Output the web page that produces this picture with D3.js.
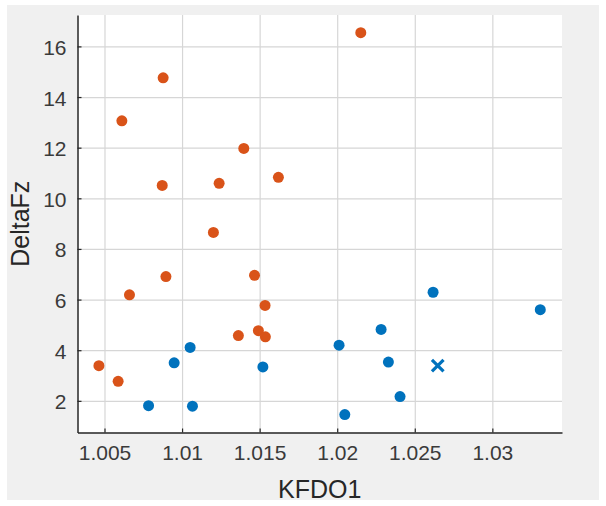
<!doctype html>
<html>
<head>
<meta charset="utf-8">
<style>
    body { margin: 0; background: #fff; }
    svg text { font-family: "Liberation Sans", Arial, sans-serif; }
</style>
<script src="https://d3js.org/d3.v7.min.js"></script>
</head>
<body>
<svg width="606" height="506" class="chart"></svg>
<script>

// data
var orangeX = [1.00878, 1.00612, 1.01398, 1.00872, 1.01239, 1.01621, 1.02152, 1.01202,
               1.00896, 1.01467, 1.00661, 1.01535, 1.01363, 1.01492, 1.01537, 1.00464, 1.00588];
var orangeY = [14.76, 13.06, 11.97, 10.51, 10.59, 10.83, 16.54, 8.65,
               6.91, 6.96, 6.19, 5.77, 4.58, 4.77, 4.53, 3.39, 2.77];

var blueX = [1.01052, 1.00949, 1.01521, 1.00784, 1.01067, 1.02618,
             1.03309, 1.02283, 1.02012, 1.02330, 1.02405, 1.02049];
var blueY = [4.11, 3.50, 3.34, 1.81, 1.79, 6.29,
             5.60, 4.82, 4.20, 3.53, 2.17, 1.46];

var crossX = [1.02648];
var crossY = [3.39];

var xTicks = [1.005, 1.01, 1.015, 1.02, 1.025, 1.03];
var xTickLabels = ["1.005", "1.01", "1.015", "1.02", "1.025", "1.03"];
var yTicks = [2, 4, 6, 8, 10, 12, 14, 16];

var xLimits = [1.00326, 1.03449];
var yLimits = [0.75, 17.24];

var svg = d3.select(".chart");

// figure background
svg.append("rect")
   .attr("x", 7).attr("y", 5)
   .attr("width", 592).attr("height", 495)
   .attr("fill", "#f0f0f0");

var mLeft = 77.5, mTop = 15, mRight = 562, mBottom = 432.5;
var width = mRight - mLeft, height = mBottom - mTop;

var x = d3.scaleLinear().domain(xLimits).range([0, width]);
var y = d3.scaleLinear().domain(yLimits).range([height, 0]);

var g = svg.append("g").attr("transform", "translate(" + mLeft + "," + mTop + ")");

g.append("rect")
 .attr("width", width).attr("height", height)
 .attr("fill", "#fff");

// grid
g.append("g")
 .attr("class", "grid")
 .attr("transform", "translate(0," + height + ")")
 .call(d3.axisBottom(x).tickValues(xTicks).tickSize(-height).tickFormat(""))
 .call(function(s) {
     s.select(".domain").remove();
     s.selectAll("line").attr("stroke", "#d6d6d6").attr("stroke-width", 1.2);
 });

g.append("g")
 .attr("class", "grid")
 .call(d3.axisLeft(y).tickValues(yTicks).tickSize(-width).tickFormat(""))
 .call(function(s) {
     s.select(".domain").remove();
     s.selectAll("line").attr("stroke", "#d6d6d6").attr("stroke-width", 1.2);
 });

// points
g.selectAll(".orange")
 .data(orangeX)
 .enter().append("circle")
 .attr("class", "orange")
 .attr("cx", function(d) { return x(d); })
 .attr("cy", function(d, i) { return y(orangeY[i]); })
 .attr("r", 5.5)
 .attr("fill", "#D95319");

g.selectAll(".blue")
 .data(blueX)
 .enter().append("circle")
 .attr("class", "blue")
 .attr("cx", function(d) { return x(d); })
 .attr("cy", function(d, i) { return y(blueY[i]); })
 .attr("r", 5.5)
 .attr("fill", "#0072BD");

var cross = d3.symbol().type(d3.symbolTimes).size(90);
g.selectAll(".cross")
 .data(crossX)
 .enter().append("path")
 .attr("class", "cross")
 .attr("transform", function(d, i) { return "translate(" + x(d) + "," + y(crossY[i]) + ")"; })
 .attr("d", cross)
 .attr("fill", "none")
 .attr("stroke", "#0072BD")
 .attr("stroke-width", 3.2);

// axes, ticks point inward
var xAxis = g.append("g")
 .attr("transform", "translate(0," + height + ")")
 .call(d3.axisBottom(x).tickValues(xTicks)
     .tickFormat(function(d, i) { return xTickLabels[i]; })
     .tickSizeInner(-4).tickSizeOuter(0).tickPadding(13));

var yAxis = g.append("g")
 .call(d3.axisLeft(y).tickValues(yTicks)
     .tickSizeInner(-4).tickSizeOuter(0).tickPadding(11));

[xAxis, yAxis].forEach(function(a) {
    a.select(".domain").attr("stroke", "#262626").attr("stroke-width", 1.5);
    a.selectAll(".tick line").attr("stroke", "#262626").attr("stroke-width", 1.2);
    a.selectAll("text")
     .attr("fill", "#3a3a3a")
     .attr("font-size", "21px")
     .attr("font-family", null);
});

yAxis.selectAll("text").attr("dy", "0.38em");

svg.append("text")
   .attr("x", mLeft + width / 2)
   .attr("y", 498)
   .attr("text-anchor", "middle")
   .attr("font-size", "25px")
   .attr("fill", "#262626")
   .text("KFDO1");

svg.append("text")
   .attr("transform", "translate(29," + (mTop + height / 2) + ") rotate(-90)")
   .attr("text-anchor", "middle")
   .attr("font-size", "25px")
   .attr("fill", "#262626")
   .text("DeltaFz");

</script>
</body>
</html>
